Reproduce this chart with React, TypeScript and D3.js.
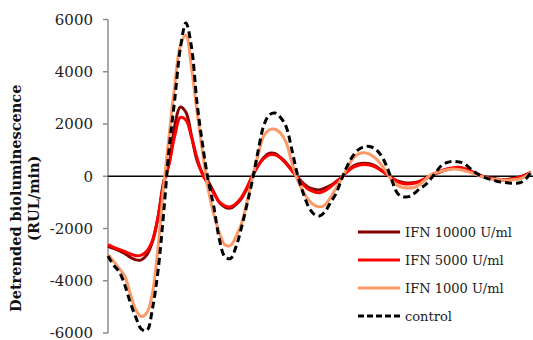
import React, { useEffect, useRef } from 'react';
import * as d3 from 'd3';

// time points (hours), one reading per hour
const hours = d3.range(0, 77);

const ifn10000 = [
  -2680, -2760, -2850, -2960, -3100, -3200, -3200, -3000, -2500, -1550,
  -200, 500, 1950, 2650, 2450, 1550, 600, 100, -200, -600,
  -1000, -1180, -1220, -1080, -850, -450, 30, 420, 720, 880,
  870, 720, 520, 250, -20, -250, -420, -500, -520, -450,
  -350, -200, -30, 200, 380, 470, 500, 480, 400, 250,
  100, -70, -180, -240, -260, -240, -200, -100, 20, 110,
  190, 260, 300, 310, 270, 200, 110, 20, -40, -80,
  -110, -120, -110, -80, -30, 50, 150,
];

const ifn5000 = [
  -2620, -2720, -2800, -2880, -2970, -3040, -3020, -2860, -2450, -1550,
  -300, 500, 1550, 2250, 2150, 1500, 700, 50, -300, -650,
  -980, -1130, -1170, -1050, -800, -420, 50, 420, 680, 820,
  820, 700, 480, 220, -50, -300, -500, -600, -630, -550,
  -400, -220, -30, 180, 340, 420, 450, 430, 360, 230,
  80, -80, -210, -280, -300, -270, -190, -90, 30, 130,
  220, 290, 330, 340, 300, 220, 120, 20, -50, -100,
  -130, -140, -130, -90, -40, 40, 150,
];

const ifn1000 = [
  -3000, -3250, -3530, -3820, -4500, -5120, -5370, -5220, -4450, -2700,
  -400, 1600, 3500, 5000, 5400, 4150, 2450, 900, -500, -1450,
  -2150, -2620, -2650, -2300, -1800, -950, 0, 850, 1550, 1780,
  1800, 1650, 1300, 550, -120, -550, -900, -1100, -1170, -1100,
  -800, -450, -70, 330, 680, 860, 900, 850, 700, 470,
  180, -150, -350, -430, -450, -430, -320, -130, 60, 140,
  200, 250, 280, 260, 220, 150, 80, 0, -70, -100,
  -130, -140, -150, -130, -100, 0, 150,
];

const control = [
  -3050, -3400, -3650, -4150, -4830, -5400, -5850, -5900, -5050, -3600,
  -1400, 1100, 2950, 4900, 5870, 4950, 2800, 1200, -150, -1150,
  -2400, -3080, -3150, -2700, -1950, -1050, -100, 1000, 1950, 2350,
  2420, 2250, 1900, 1050, 100, -600, -1150, -1450, -1520, -1350,
  -1000, -650, -100, 400, 780, 1020, 1130, 1140, 1050, 820,
  420, -150, -650, -780, -780, -660, -480, -330, -100, 180,
  430, 530, 570, 550, 490, 310, 140, 20, -70, -130,
  -200, -230, -260, -265, -250, -120, 150,
];

const seriesNames = ['IFN 10000 U/ml', 'IFN 5000 U/ml', 'IFN 1000 U/ml', 'control'];
const seriesValues = [ifn10000, ifn5000, ifn1000, control];
const seriesColors = ['#870000', '#ff0000', '#fd9a68', '#000000'];
const seriesDash = [null, null, null, '7,4'];

const yTicks = [-6000, -4000, -2000, 0, 2000, 4000, 6000];

function Chart() {
  const svgRef = useRef<SVGSVGElement | null>(null);

  useEffect(() => {
    if (!svgRef.current) return;
    const svg = d3.select(svgRef.current);
    svg.selectAll('*').remove();

    const width = 533;
    const height = 340;
    const font = '"DejaVu Serif", serif';

    svg.attr('width', width).attr('height', height);

    const x = d3.scaleLinear().domain([0, 76]).range([108, 531]);
    const y = d3.scaleLinear().domain([-6000, 6000]).range([333, 19.5]);

    // y axis (gray)
    svg.append('line')
      .attr('x1', 108).attr('x2', 108)
      .attr('y1', y(6000)).attr('y2', y(-6000))
      .attr('stroke', '#8c8c8c')
      .attr('stroke-width', 1.5);

    yTicks.forEach(t => {
      svg.append('line')
        .attr('x1', 103).attr('x2', 108)
        .attr('y1', y(t)).attr('y2', y(t))
        .attr('stroke', '#8c8c8c')
        .attr('stroke-width', 1.5);
      svg.append('text')
        .attr('x', 93)
        .attr('y', y(t))
        .attr('dy', t === -6000 ? '0.3em' : '0.36em')
        .attr('text-anchor', 'end')
        .attr('font-family', font)
        .attr('font-size', '15px')
        .attr('fill', '#222')
        .text(t);
    });

    // zero line
    svg.append('line')
      .attr('x1', 108).attr('x2', 533)
      .attr('y1', y(0)).attr('y2', y(0))
      .attr('stroke', '#000')
      .attr('stroke-width', 1.5);

    // y axis title
    const title = svg.append('text')
      .attr('transform', `translate(21, ${y(0) + 22}) rotate(-90)`)
      .attr('text-anchor', 'middle')
      .attr('font-family', font)
      .attr('font-weight', 'bold')
      .attr('font-size', '14.5px')
      .attr('fill', '#111');
    title.append('tspan').attr('x', 0).attr('dy', 0).text('Detrended bioluminescence');
    title.append('tspan').attr('x', 0).attr('dy', 17.5).text('(RUL/min)');

    // series
    const line = d3.line<number>()
      .x((d, i) => x(hours[i]))
      .y(d => y(d))
      .curve(d3.curveCatmullRom.alpha(0.5));

    seriesValues.forEach((vals, i) => {
      const p = svg.append('path')
        .datum(vals)
        .attr('d', line)
        .attr('fill', 'none')
        .attr('stroke', seriesColors[i])
        .attr('stroke-width', 3)
        .attr('stroke-linejoin', 'round');
      if (seriesDash[i]) p.attr('stroke-dasharray', seriesDash[i] as string);
    });

    // legend
    seriesNames.forEach((name, i) => {
      const ly = 232 + i * 28;
      const l = svg.append('line')
        .attr('x1', 358).attr('x2', 400)
        .attr('y1', ly).attr('y2', ly)
        .attr('stroke', seriesColors[i])
        .attr('stroke-width', 3);
      if (seriesDash[i]) l.attr('stroke-dasharray', '6,3');
      svg.append('text')
        .attr('x', 405)
        .attr('y', ly)
        .attr('dy', '0.36em')
        .attr('font-family', font)
        .attr('font-size', '13px')
        .attr('fill', '#222')
        .text(name);
    });
  }, []);

  return <svg ref={svgRef} style={{ position: 'absolute', left: 0, top: 0 }}></svg>;
}

export default function App() {
  return <Chart />;
}
